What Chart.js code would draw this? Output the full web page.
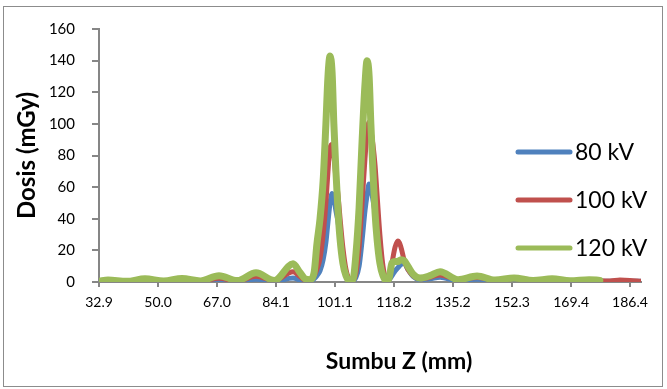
<!DOCTYPE html>
<html lang="id">
<head>
<meta charset="UTF-8">
<title>Dosis vs Sumbu Z</title>
<script src="https://cdn.jsdelivr.net/npm/chart.js"></script>
<style>
	html, body { margin: 0; padding: 0; background: #fff; }
	#wrap { width: 667px; height: 389px; }
</style>
</head>
<body>
<div id="wrap"><canvas id="doseChart" width="667" height="389"></canvas></div>
<script>
// positions along Z (mm)
const zMm = [32.9, 35.5, 40.9, 46.2, 51.6, 56.9, 62.2, 67.6, 72.9, 78.3, 83.6, 89.0, 91.0, 92.5, 93.9,
	95.1, 95.9, 96.8, 97.7, 98.5, 99.1, 99.7, 100.3, 100.8, 101.4, 102.0, 102.6, 103.4, 104.3, 105.2,
	106.3, 107.2, 108.1, 108.9, 109.8, 110.4, 111.0, 111.5, 112.1, 112.7, 113.3, 114.1, 115.0, 115.9,
	116.7, 117.6, 118.5, 119.3, 120.2, 121.1, 122.2, 123.7, 125.7, 128.6, 131.5, 136.7, 142.2, 147.4,
	152.9, 158.4, 163.9, 169.1, 174.6, 177.7, 180.6, 183.5, 186.4, 189.6];

// dose (mGy) for each tube voltage
const dose80 = [0.2, 0.3, 0.1, 0.4, 0.2, 0.6, 0.2, 1.2, 0.3, 1.8, 0.4, 2.5, 1.2, 0.5, 0.8,
	2, 4, 7, 14, 25, 38, 50, 56, 53, 45, 38, 28, 15, 6, 1.5,
	0.8, 3, 10, 25, 45, 55, 62, 59, 52, 44, 33, 18, 7, 2,
	1.5, 4, 7, 9, 11, 12, 8, 3.5, 1.5, 2, 3, 0.8, 1.8, 0.6,
	1.3, 0.5, 1, 0.4, 0.8, 0.4, 0.4, 0.6, 0.5, 0.4];
const dose100 = [0.3, 0.8, 0.3, 1.0, 0.4, 1.3, 0.5, 2.3, 0.6, 3.6, 0.8, 6.5, 3.5, 1.2, 1.5,
	4, 8, 15, 30, 50, 70, 85, 87, 80, 66, 55, 40, 22, 8, 2,
	1, 6, 22, 48, 78, 95, 101, 96, 87, 74, 55, 30, 10, 2.5,
	3, 12, 22, 26, 22, 14, 8, 4, 2, 3, 4.5, 1.5, 2.8, 1.2,
	2, 0.8, 1.6, 0.7, 1.3, 0.8, 0.6, 1.2, 1, 0.5];
const dose120 = [0.5, 1.2, 0.4, 2.0, 0.6, 2.2, 0.7, 4.0, 0.9, 5.8, 1.0, 11.5, 6, 2, 1.5,
	6, 24, 40, 64, 100, 130, 143, 132, 100, 70, 45, 27, 12, 4, 1,
	1.5, 18, 47, 86, 125, 140, 130, 100, 70, 44, 27, 12, 4, 1,
	2, 12, 13, 13, 14, 13.5, 10, 5, 2.5, 4, 6.5, 1.5, 3.8, 1.2,
	2.6, 1, 2, 0.8, 1.5, 1, null, null, null, null];

const seriesNames = ['80 kV', '100 kV', '120 kV'];
const xTickValues = [32.9, 50.0, 67.0, 84.1, 101.1, 118.2, 135.2, 152.3, 169.4, 186.4];

const axisGray = '#868686';

function pts(ys) {
	return ys.map((y, i) => ({ x: zMm[i], y: y }));
}

// white background, outer frame, x title and the legend drawn like Excel does
const excelDecor = {
	id: 'excelDecor',
	beforeDraw(chart) {
		const ctx = chart.ctx;
		ctx.save();
		ctx.fillStyle = '#fff';
		ctx.fillRect(0, 0, chart.width, chart.height);
		ctx.restore();
	},
	afterDraw(chart) {
		const ctx = chart.ctx;
		ctx.save();
		ctx.strokeStyle = '#8c8c8c';
		ctx.lineWidth = 1;
		ctx.strokeRect(3.5, 6.5, 659, 380);

		ctx.fillStyle = '#000';
		ctx.font = 'bold 23px Lato';
		ctx.textAlign = 'center';
		ctx.textBaseline = 'middle';
		ctx.fillText('Sumbu Z (mm)', 399, 362);

		ctx.font = '23px Lato';
		ctx.textAlign = 'left';
		const rows = [152, 200, 248];
		chart.data.datasets.forEach((ds, i) => {
			ctx.strokeStyle = ds.borderColor;
			ctx.lineWidth = 5;
			ctx.lineCap = 'round';
			ctx.beginPath();
			ctx.moveTo(518, rows[i]);
			ctx.lineTo(570, rows[i]);
			ctx.stroke();
			ctx.fillStyle = '#000';
			ctx.fillText(ds.label, 575, rows[i] + 1);
		});
		ctx.restore();
	}
};

var ctx = document.getElementById('doseChart').getContext('2d');
var doseChart = new Chart(ctx, {
	type: 'line',
	data: {
		datasets: [
			{
				label: seriesNames[0],
				data: pts(dose80),
				borderColor: '#4F81BD',
				borderWidth: 5,
				order: 2
			},
			{
				label: seriesNames[1],
				data: pts(dose100),
				borderColor: '#C0504D',
				borderWidth: 5,
				order: 1
			},
			{
				label: seriesNames[2],
				data: pts(dose120),
				borderColor: '#9BBB59',
				borderWidth: 7,
				order: 0
			}
		]
	},
	options: {
		responsive: false,
		animation: false,
		layout: { padding: { top: 29, right: 26, bottom: 0, left: 0 } },
		elements: {
			point: { radius: 0 },
			line: { cubicInterpolationMode: 'monotone', borderJoinStyle: 'round', borderCapStyle: 'round' }
		},
		plugins: {
			legend: { display: false },
			tooltip: { enabled: false }
		},
		scales: {
			x: {
				type: 'linear',
				min: 32.9,
				max: 189.6,
				afterBuildTicks: s => { s.ticks = xTickValues.map(v => ({ value: v })); },
				ticks: {
					autoSkip: false,
					maxRotation: 0,
					padding: 7,
					color: '#000',
					font: { family: 'Lato', size: 14 },
					callback: v => v.toFixed(1)
				},
				grid: { drawOnChartArea: false, tickLength: 5, color: axisGray, lineWidth: 2 },
				border: { color: axisGray, width: 2 },
				afterFit: s => { s.height = 107; s.paddingLeft = 0; s.paddingRight = 0; }
			},
			y: {
				min: 0,
				max: 160,
				ticks: {
					stepSize: 20,
					padding: 17,
					color: '#000',
					font: { family: 'Lato', size: 15 }
				},
				grid: { drawOnChartArea: false, tickLength: 7, color: axisGray, lineWidth: 2 },
				border: { color: axisGray, width: 2 },
				title: {
					display: true,
					text: 'Dosis (mGy)',
					color: '#000',
					font: { family: 'Lato', size: 24, weight: 'bold' },
					padding: { top: 13, bottom: 0 }
				},
				afterFit: s => { s.width = 99; s.paddingTop = 0; s.paddingBottom = 0; }
			}
		}
	},
	plugins: [excelDecor]
});
</script>
</body>
</html>
